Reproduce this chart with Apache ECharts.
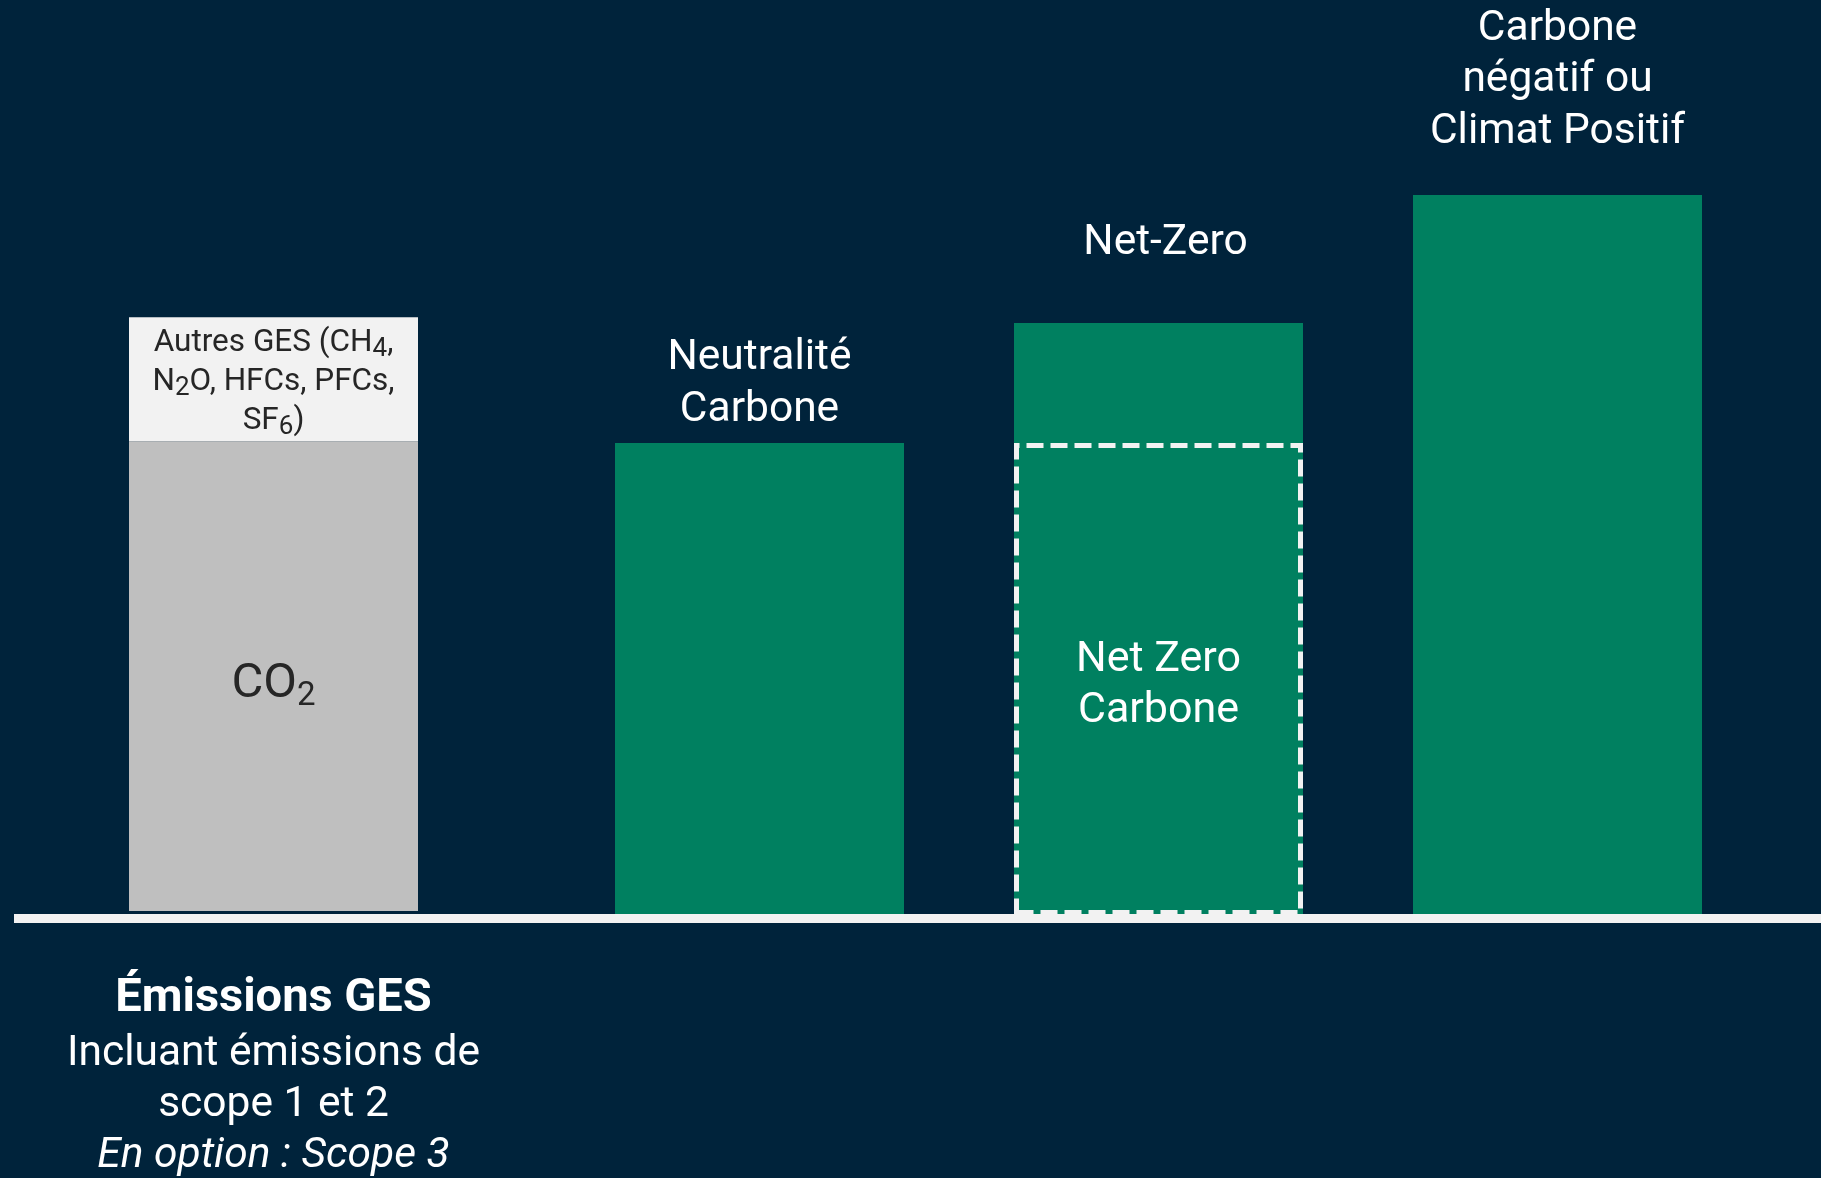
<!DOCTYPE html>
<html>
<head>
<meta charset="utf-8">
<script src="https://cdn.jsdelivr.net/npm/echarts@6/dist/echarts.min.js"></script>
<style>
  html, body { margin: 0; padding: 0; background: #00233B; }
  #chart { width: 1821px; height: 1178px; }
</style>
</head>
<body>
<div id="chart"></div>
<script>
// ---- Data ----
const leftCategories = ['Émissions GES'];
const co2Values = [59];
const autresGesValues = [15.6];

const rightCategories = ['Neutralité Carbone', 'Net-Zero', 'Carbone négatif ou Climat Positif'];
const rightLabels = ['Neutralité\nCarbone', 'Net-Zero', 'Carbone\nnégatif ou\nClimat Positif'];
const rightValues = [59, 74, 90];
const netZeroCarboneValues = ['-', 59, '-'];
const netZeroCarboneLabel = 'Net Zero\nCarbone';

// ---- Styles ----
const BG = '#00233B';
const GREEN = '#008060';
const GRAY = '#BFBFBF';
const LIGHT = '#F2F2F2';
const FONT = 'Roboto';
const labelDistances = [7, 54, 37];
const labelOffsets = [[0, 0], [7, 0], [0, 0]];

const chart = echarts.init(document.getElementById('chart'), null, { renderer: 'canvas' });

const option = {
  backgroundColor: BG,
  animation: false,
  textStyle: { fontFamily: FONT },
  grid: [
    { left: 14, width: 519, top: 115, bottom: 263 },
    { left: 560, width: 1197, top: 115, bottom: 263 }
  ],
  xAxis: [
    {
      type: 'category', gridIndex: 0, data: leftCategories,
      axisLine: { show: false }, axisTick: { show: false },
      axisLabel: {
        interval: 0, margin: 58,
        formatter: () => '{b|Émissions GES}\n{r|Incluant émissions de}\n{r|scope 1 et 2}\n{i|En option : Scope 3}',
        rich: {
          b: { fontFamily: FONT, fontSize: 47, fontWeight: 'bold', lineHeight: 60, color: '#FFFFFF' },
          r: { fontFamily: FONT, fontSize: 42.5, lineHeight: 51, color: '#FFFFFF' },
          i: { fontFamily: FONT, fontSize: 42.5, fontStyle: 'italic', lineHeight: 51, color: '#FFFFFF' }
        }
      }
    },
    {
      type: 'category', gridIndex: 1, data: rightCategories,
      axisLine: { show: false }, axisTick: { show: false }, axisLabel: { show: false }
    }
  ],
  yAxis: [
    { type: 'value', gridIndex: 0, min: 0, max: 100, show: false },
    { type: 'value', gridIndex: 1, min: 0, max: 100, show: false }
  ],
  graphic: [
    { type: 'rect', shape: { x: 14, y: 914, width: 1807, height: 9 }, style: { fill: LIGHT }, z: 100 }
  ],
  series: [
    {
      name: 'CO2', type: 'bar', xAxisIndex: 0, yAxisIndex: 0, stack: 'ges',
      barWidth: 289, data: co2Values,
      itemStyle: { color: GRAY },
      label: {
        show: true, position: 'inside', offset: [0, 9],
        formatter: () => '{m|CO}{s|2}',
        rich: {
          m: { fontFamily: FONT, fontSize: 49, lineHeight: 56, color: '#262626' },
          s: { fontFamily: FONT, fontSize: 33, lineHeight: 12, verticalAlign: 'bottom', color: '#262626' }
        }
      }
    },
    {
      name: 'Autres GES', type: 'bar', xAxisIndex: 0, yAxisIndex: 0, stack: 'ges',
      barWidth: 289, data: autresGesValues,
      itemStyle: { color: LIGHT },
      label: {
        show: true, position: 'inside', offset: [0, 3],
        formatter: () => '{a|Autres GES (CH}{s|4}{a|,}\n{a|N}{s|2}{a|O, HFCs, PFCs,}\n{a|SF}{s|6}{a|)}',
        rich: {
          a: { fontFamily: FONT, fontSize: 31.5, lineHeight: 39, color: '#262626' },
          s: { fontFamily: FONT, fontSize: 26, lineHeight: 14, verticalAlign: 'bottom', color: '#262626' }
        }
      }
    },
    {
      name: 'Objectifs', type: 'bar', xAxisIndex: 1, yAxisIndex: 1,
      barWidth: 289, barGap: '-100%',
      data: rightValues.map((v, i) => ({
        value: v,
        label: { distance: labelDistances[i], offset: labelOffsets[i] }
      })),
      itemStyle: { color: GREEN },
      label: {
        show: true, position: 'top',
        formatter: (p) => rightLabels[p.dataIndex],
        fontFamily: FONT, fontSize: 42.5, lineHeight: 51.5, color: '#FFFFFF', align: 'center'
      }
    },
    {
      name: 'Net Zero Carbone', type: 'bar', xAxisIndex: 1, yAxisIndex: 1,
      barWidth: 289, barGap: '-100%', z: 3,
      data: netZeroCarboneValues,
      itemStyle: { color: 'rgba(0,0,0,0)', borderColor: LIGHT, borderWidth: 5, borderType: [17, 7] },
      label: {
        show: true, position: 'inside', offset: [0, 7],
        formatter: () => netZeroCarboneLabel,
        fontFamily: FONT, fontSize: 43, lineHeight: 51, color: '#FFFFFF', align: 'center'
      }
    }
  ]
};

chart.setOption(option);
</script>
</body>
</html>
